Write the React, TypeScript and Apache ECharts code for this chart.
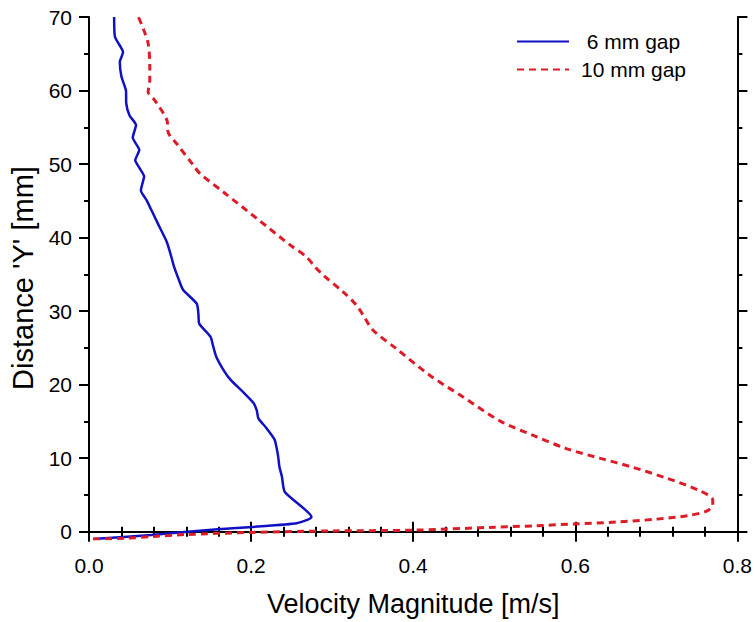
import React, { useEffect, useRef } from "react";
import * as echarts from "echarts";

// ---- Data ----
const gap6Y = [-1.0, -0.45, 0.33, 1.1, 2.0, 5.4, 7.5, 8.8, 10.5, 12.5, 14.2, 15.4, 16.5, 17.5, 19.0, 20.6, 21.8, 23.8, 25.3, 26.5, 28.3, 29.6, 31.0, 32.9, 34.5, 36.0, 37.6, 39.4, 41.9, 43.5, 45.1, 46.4, 47.4, 48.3, 49.5, 50.5, 51.9, 53.6, 55.3, 56.6, 58.2, 60.0, 61.9, 63.9, 65.2, 67.3, 70.0];
const gap6V = [0.005, 0.077, 0.159, 0.254, 0.2745, 0.2416, 0.238, 0.235, 0.233, 0.229, 0.218, 0.209, 0.207, 0.203, 0.19, 0.175, 0.167, 0.157, 0.153, 0.15, 0.136, 0.135, 0.133, 0.116, 0.11, 0.105, 0.101, 0.096, 0.085, 0.078, 0.071, 0.064, 0.066, 0.068, 0.062, 0.057, 0.062, 0.054, 0.058, 0.05, 0.046, 0.0456, 0.04, 0.038, 0.042, 0.032, 0.031];

const gap10Y = [-1.0, -0.9, -0.65, -0.4, -0.1, 0.1, 0.2, 0.6, 0.8, 1.05, 1.3, 1.7, 2.2, 2.8, 3.6, 4.3, 5.6, 7.3, 8.75, 10.0, 11.3, 13.1, 15.0, 18.35, 21.3, 24.9, 27.4, 29.5, 30.8, 32.6, 34.9, 36.0, 37.4, 39.0, 42.6, 46.0, 48.7, 49.8, 52.8, 54.2, 56.0, 58.7, 59.8, 61.4, 63.2, 66.4, 68.4, 70.0];
const gap10V = [0.005, 0.044, 0.08, 0.118, 0.2, 0.3, 0.4, 0.5, 0.55, 0.6, 0.65, 0.7, 0.74, 0.762, 0.7696, 0.7696, 0.753, 0.712, 0.671, 0.63, 0.589, 0.548, 0.508, 0.461, 0.42, 0.379, 0.3505, 0.338, 0.33, 0.3135, 0.289, 0.279, 0.268, 0.248, 0.207, 0.168, 0.137, 0.129, 0.108, 0.098, 0.096, 0.081, 0.073, 0.075, 0.075, 0.073, 0.067, 0.061];

const yMajorTicks = [0, 10, 20, 30, 40, 50, 60, 70];
const yMinorTicks = [5, 15, 25, 35, 45, 55, 65];

const seriesNames = ["6 mm gap", "10 mm gap"];

const FONT = "'Liberation Sans', Arial, sans-serif";
const axisLine = { show: true, lineStyle: { color: "#000", width: 2 } };
const tickStyle = { color: "#000", width: 2 };

export default function App() {
  const ref = useRef<HTMLDivElement>(null);
  useEffect(() => {
    if (!ref.current) return;
    const chart = echarts.init(ref.current, undefined, { renderer: "svg" });
    const pairs = (xs: number[], ys: number[]) => xs.map((v, i) => [v, ys[i]]);

    const xBase = {
      type: "value",
      min: 0,
      max: 0.8,
      interval: 0.2,
      axisLine,
      axisTick: { show: true, length: 10, lineStyle: tickStyle },
      minorTick: { show: true, splitNumber: 5, length: 5, lineStyle: tickStyle },
      splitLine: { show: false },
      minorSplitLine: { show: false },
    };
    const yBase = {
      type: "value",
      min: -1,
      max: 70,
      splitLine: { show: false },
    };

    chart.setOption({
      animation: false,
      backgroundColor: "#fff",
      textStyle: { fontFamily: FONT },
      grid: { left: 89, right: 17, top: 17, bottom: 83, containLabel: false },
      legend: {
        orient: "vertical",
        left: 516,
        top: 31,
        padding: 0,
        itemWidth: 52,
        itemHeight: 14,
        itemGap: 7,
        data: seriesNames,
        itemStyle: { opacity: 0 },
        formatter: (n: string) => (n === "6 mm gap" ? " " + n : n),
        textStyle: { fontSize: 21, color: "#000", fontFamily: FONT, lineHeight: 21, padding: [0, 0, 0, 7] },
      },
      xAxis: [
        {
          ...xBase,
          position: "bottom",
          axisLabel: {
            fontSize: 21,
            color: "#000",
            fontFamily: FONT,
            margin: 16,
            formatter: (v: number) => v.toFixed(1),
          },
          name: "Velocity Magnitude [m/s]",
          nameLocation: "middle",
          nameGap: 51,
          nameTextStyle: { fontSize: 27, color: "#000", fontFamily: FONT },
        },
        { ...xBase, position: "top", axisLabel: { show: false } },
      ],
      yAxis: [
        {
          ...yBase,
          position: "left",
          axisLine,
          axisTick: { show: true, length: 10, lineStyle: tickStyle, customValues: yMajorTicks },
          axisLabel: { fontSize: 21, color: "#000", fontFamily: FONT, margin: 17, customValues: yMajorTicks },
          name: "Distance 'Y' [mm]",
          nameLocation: "middle",
          nameGap: 48,
          nameTextStyle: { fontSize: 29, color: "#000", fontFamily: FONT },
        },
        {
          ...yBase,
          position: "left",
          axisLine: { show: false },
          axisTick: { show: true, length: 5, lineStyle: tickStyle, customValues: yMinorTicks },
          axisLabel: { show: false },
        },
        {
          ...yBase,
          position: "right",
          axisLine,
          axisTick: { show: true, length: 10, lineStyle: tickStyle, customValues: yMajorTicks },
          axisLabel: { show: false },
        },
        {
          ...yBase,
          position: "right",
          axisLine: { show: false },
          axisTick: { show: true, length: 5, lineStyle: tickStyle, customValues: yMinorTicks },
          axisLabel: { show: false },
        },
      ],
      series: [
        {
          name: seriesNames[0],
          type: "line",
          xAxisIndex: 0,
          yAxisIndex: 0,
          data: pairs(gap6V, gap6Y),
          showSymbol: false,
          symbol: "none",
          smooth: 0.2,
          lineStyle: { color: "#1010c4", width: 2.5 },
          itemStyle: { color: "#1010c4" },
        },
        {
          name: seriesNames[1],
          type: "line",
          xAxisIndex: 0,
          yAxisIndex: 0,
          data: pairs(gap10V, gap10Y),
          showSymbol: false,
          symbol: "none",
          smooth: 0.3,
          lineStyle: { color: "#dc1c26", width: 3, type: [7, 5] },
          itemStyle: { color: "#dc1c26" },
        },
      ],
    });
    return () => chart.dispose();
  }, []);
  return (
    <div
      ref={ref}
      style={{ position: "fixed", left: 0, top: 0, width: 755, height: 622, background: "#fff" }}
    />
  );
}
